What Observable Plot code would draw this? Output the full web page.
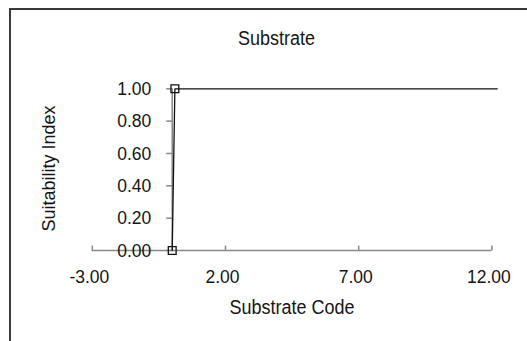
<!DOCTYPE html>
<html><head><meta charset="utf-8">
<script src="https://cdn.jsdelivr.net/npm/d3@7"></script>
<script src="https://cdn.jsdelivr.net/npm/@observablehq/plot@0.6"></script>
<style>
body{margin:0;background:#fff;overflow:hidden;}
#wrap{position:relative;width:527px;height:341px;overflow:hidden;}
#border{position:absolute;left:9px;top:8px;width:600px;height:400px;border-left:2px solid #3a3a3a;border-top:2px solid #3a3a3a;pointer-events:none;}
</style></head><body>
<div id="wrap"><div id="chart"></div><div id="border"></div></div>
<script>
const substrateCode = [0, 0.1, 12.2];
const suitabilityIndex = [0, 1, 1];
const markerShown = [true, true, false];
const xTicks = [-3, 2, 7, 12];
const yTicks = [0, 0.2, 0.4, 0.6, 0.8, 1.0];
const chartTitle = "Substrate";
const xTitle = "Substrate Code";
const yTitle = "Suitability Index";

const points = substrateCode.map((x, i) => ({x, y: suitabilityIndex[i], marked: markerShown[i]}));
const font = "'Liberation Sans', Arial, sans-serif";
const textColor = "#151515";
const axisColor = "#888";

const tickLeft = {draw(ctx) { ctx.moveTo(-6, 0); ctx.lineTo(0, 0); }};
const tickUp = {draw(ctx) { ctx.moveTo(0, 0); ctx.lineTo(0, -5); }};

const chart = Plot.plot({
  width: 527,
  height: 341,
  marginTop: 0, marginRight: 0, marginBottom: 0, marginLeft: 0,
  style: {fontFamily: font, background: "transparent", overflow: "visible"},
  x: {domain: [-3, 12], range: [91.8, 491.4], axis: null},
  y: {domain: [0, 1], range: [250, 88.3], axis: null},
  marks: [
    Plot.ruleY([0], {x1: xTicks[0], x2: xTicks[xTicks.length - 1], stroke: axisColor, strokeWidth: 1.5}),
    Plot.ruleX([0], {y1: yTicks[0], y2: yTicks[yTicks.length - 1], stroke: axisColor, strokeWidth: 1.5}),
    Plot.dot(yTicks, {x: 0, y: d => d, symbol: tickLeft, stroke: axisColor, strokeWidth: 1.5, fill: "none"}),
    Plot.dot(xTicks, {x: d => d, y: 0, symbol: tickUp, stroke: axisColor, strokeWidth: 1.5, fill: "none"}),
    Plot.text(yTicks, {x: 0, y: d => d, text: d => d.toFixed(2), textAnchor: "end", lineAnchor: "middle", dx: -21, fontSize: 17.5, fill: textColor}),
    Plot.text(xTicks, {x: d => d, y: 0, text: d => d.toFixed(2), textAnchor: "middle", lineAnchor: "middle", dx: -3, dy: 26, fontSize: 17.5, fill: textColor}),
    Plot.line(points, {x: "x", y: "y", stroke: "#111", strokeWidth: 1.3}),
    Plot.dot(points.filter(d => d.marked), {x: "x", y: "y", symbol: "square", r: 4.4, stroke: "#111", strokeWidth: 1.3, fill: "none"}),
    Plot.text([chartTitle], {frameAnchor: "top-left", dx: 276, dy: 38, textAnchor: "middle", lineAnchor: "middle", fontSize: 18, fill: textColor}),
    Plot.text([xTitle], {frameAnchor: "top-left", dx: 291.5, dy: 307, textAnchor: "middle", lineAnchor: "middle", fontSize: 18, fill: textColor}),
    Plot.text([yTitle], {frameAnchor: "top-left", dx: 49, dy: 168, textAnchor: "middle", lineAnchor: "middle", rotate: -90, fontSize: 18, fill: textColor})
  ]
});
document.getElementById("chart").appendChild(chart);

// The reference text is slightly stretched vertically; mimic that for horizontal labels.
d3.select(chart).selectAll("text").each(function() {
  const t = this.getAttribute("transform") || "";
  if (t.includes("rotate")) return;
  const b = this.getBBox();
  const cx = b.x + b.width / 2, cy = b.y + b.height / 2;
  this.setAttribute("transform", `${t} translate(${cx},${cy}) scale(1,1.1) translate(${-cx},${-cy})`);
});
</script>
</body></html>
